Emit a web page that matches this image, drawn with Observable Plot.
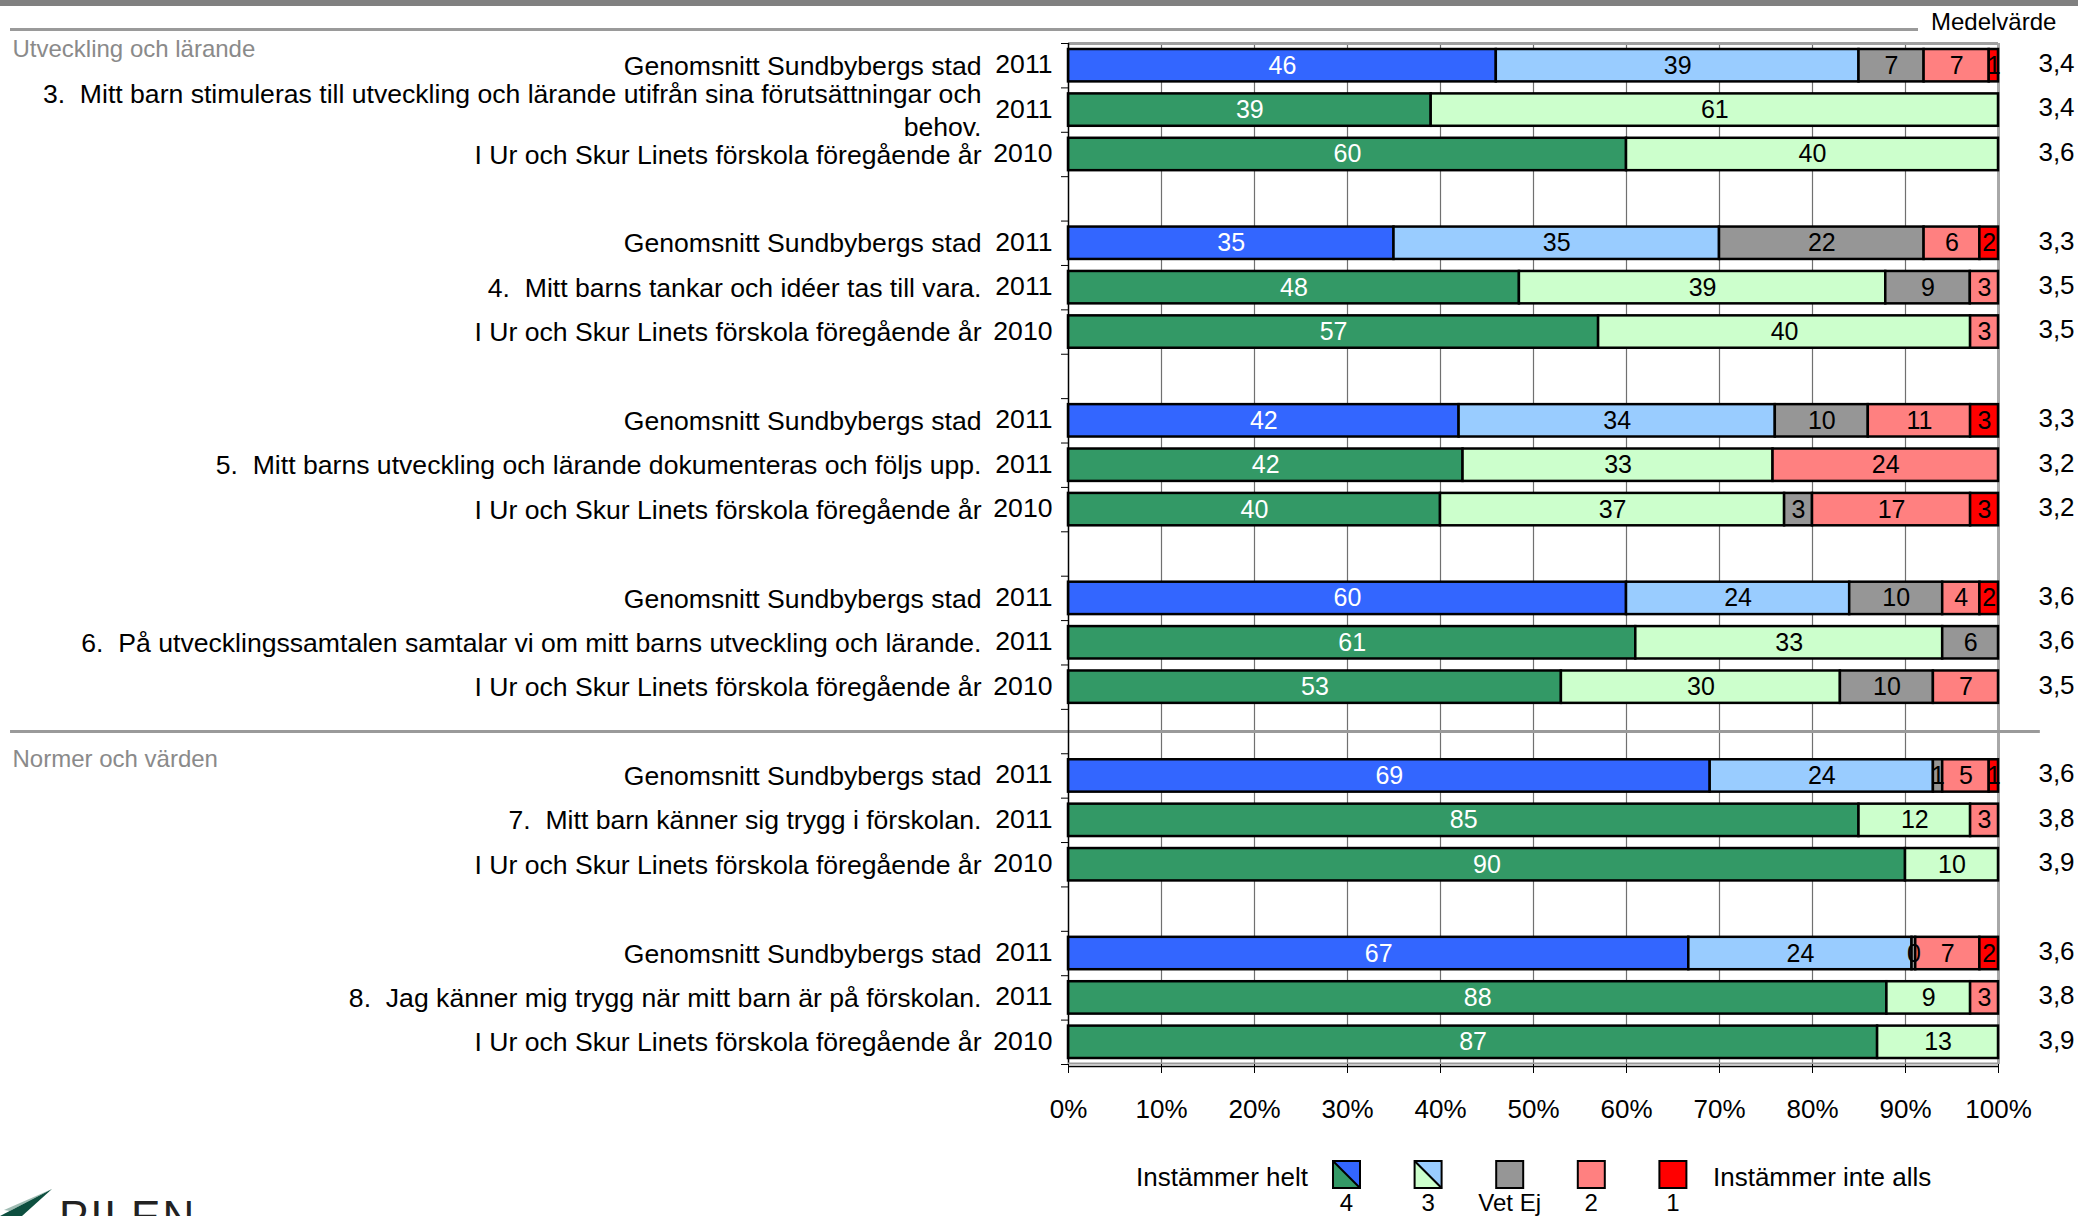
<!DOCTYPE html>
<html><head><meta charset="utf-8">
<script src="https://cdn.jsdelivr.net/npm/d3@7"></script>
<script src="https://cdn.jsdelivr.net/npm/@observablehq/plot@0.6"></script>
<style>
html,body{margin:0;padding:0;background:#fff;width:2078px;height:1216px;overflow:hidden;position:relative;font-family:'Liberation Sans',Arial,sans-serif;}
#chart{position:absolute;left:0;top:0;}
.abs{position:absolute;}
svg text{white-space:pre;}
</style></head><body>
<div id="chart"></div>
<div class="abs" style="left:0;top:0;width:2078px;height:6px;background:#808080"></div>
<div class="abs" style="left:10px;top:28px;width:1908px;height:3px;background:#9a9a9a"></div>
<div class="abs" id="medel" style="left:1931px;top:8px;font-size:24px;line-height:28px;"></div>
<div class="abs" id="legend" style="left:0;top:1146px"></div>
<div class="abs" id="logo" style="left:0;top:1180px"></div>
<script>
// ---------- data ----------
const categories = ["4", "3", "Vet Ej", "2", "1"];
const stadColors = ["#3366FF", "#99CCFF", "#969696", "#FF8080", "#FF0000"];
const skolaColors = ["#339966", "#CCFFCC", "#969696", "#FF8080", "#FF0000"];
const sections = ["Utveckling och lärande", "Normer och värden"];
const sectionStartQuestion = [0, 4];
const questions = [
  "3.  Mitt barn stimuleras till utveckling och lärande utifrån sina förutsättningar och\nbehov.",
  "4.  Mitt barns tankar och idéer tas till vara.",
  "5.  Mitt barns utveckling och lärande dokumenteras och följs upp.",
  "6.  På utvecklingssamtalen samtalar vi om mitt barns utveckling och lärande.",
  "7.  Mitt barn känner sig trygg i förskolan.",
  "8.  Jag känner mig trygg när mitt barn är på förskolan."
];
const stadLabel = "Genomsnitt Sundbybergs stad";
const prevLabel = "I Ur och Skur Linets förskola föregående år";
const rowYears = ["2011", "2011", "2010"];
const rowKinds = ["stad", "skola", "skola"];
const xTicks = [0, 0.1, 0.2, 0.3, 0.4, 0.5, 0.6, 0.7, 0.8, 0.9, 1];
const meanHeader = "Medelvärde";
const legendLeft = "Instämmer helt";
const legendRight = "Instämmer inte alls";

// percentages per row: [4, 3, Vet Ej, 2, 1]
const q3Values = [[46, 39, 7, 7, 1], [39, 61, 0, 0, 0], [60, 40, 0, 0, 0]];
const q4Values = [[35, 35, 22, 6, 2], [48, 39, 9, 3, 0], [57, 40, 0, 3, 0]];
const q5Values = [[42, 34, 10, 11, 3], [42, 33, 0, 24, 0], [40, 37, 3, 17, 3]];
const q6Values = [[60, 24, 10, 4, 2], [61, 33, 6, 0, 0], [53, 30, 10, 7, 0]];
const q7Values = [[69, 24, 1, 5, 1], [85, 12, 0, 3, 0], [90, 10, 0, 0, 0]];
const q8Values = [[66.7, 24, 0.4, 6.9, 2], [88, 9, 0, 3, 0], [87, 13, 0, 0, 0]];
const allValues = [q3Values, q4Values, q5Values, q6Values, q7Values, q8Values];
const meanValues = [[3.4, 3.4, 3.6], [3.3, 3.5, 3.5], [3.3, 3.2, 3.2], [3.6, 3.6, 3.5], [3.6, 3.8, 3.9], [3.6, 3.8, 3.9]];

// ---------- build tables ----------
const rows = [];
const segs = [];
questions.forEach((q, qi) => {
  [0, 1, 2].forEach(r => {
    const slot = qi * 4 + r;
    const kind = rowKinds[r];
    rows.push({
      slot,
      label: r === 0 ? stadLabel : r === 1 ? q : prevLabel,
      year: rowYears[r],
      mean: meanValues[qi][r]
    });
    const vals = allValues[qi][r];
    const total = d3.sum(vals);
    let cum = 0;
    vals.forEach((v, ci) => {
      if (v > 0) {
        segs.push({
          slot, cat: categories[ci], value: v,
          x1: cum / total, x2: (cum + v) / total,
          color: (kind === "stad" ? stadColors : skolaColors)[ci],
          textColor: ci === 0 ? "white" : "black"
        });
      }
      cum += v;
    });
  });
});
const nSlots = questions.length * 4 - 1;
const sectionData = sections.map((s, i) => ({name: s, slot: sectionStartQuestion[i] * 4}));
const separators = sectionStartQuestion.slice(1).map(q => q * 4 - 0.5);

const FONT = "'Liberation Sans', Arial, sans-serif";

const chart = Plot.plot({
  width: 2078,
  height: 1130,
  marginLeft: 1068,
  marginRight: 80,
  marginTop: 43,
  marginBottom: 66,
  x: {domain: [0, 1]},
  y: {domain: [0, nSlots], reverse: true},
  color: {type: "identity"},
  style: {fontFamily: FONT, fontSize: "26px", background: "white", color: "black", overflow: "visible"},
  marks: [
    Plot.ruleX(xTicks.slice(1, -1), {stroke: "#707070", strokeWidth: 1.2}),
    Plot.ruleX([1], {stroke: "#a8a8a8", strokeWidth: 3}),
    Plot.ruleY([0], {stroke: "#a0a0a0", strokeWidth: 3}),
    Plot.ruleY(separators, {x1: -1.1376, x2: 1.045, stroke: "#9a9a9a", strokeWidth: 3}),
    Plot.rectX(segs, {
      x1: "x1", x2: "x2",
      y1: d => d.slot, y2: d => d.slot + 1,
      insetTop: 6, insetBottom: 6,
      fill: "color", stroke: "black", strokeWidth: 2.5
    }),
    Plot.text(segs, {
      x: d => (d.x1 + d.x2) / 2, y: d => d.slot + 0.5,
      text: d => String(Math.round(d.value)),
      fill: "textColor", fontSize: 25
    }),
    Plot.ruleX([0], {stroke: "black", strokeWidth: 1.5}),
    Plot.ruleY([nSlots], {stroke: "#9a9a9a", strokeWidth: 2, dy: -1}),
    Plot.ruleY([nSlots], {stroke: "black", strokeWidth: 1.5, dy: 2}),
    Plot.axisY({ticks: d3.range(0, nSlots + 1), tickSize: 7, tickFormat: () => "", label: null, anchor: "left"}),
    Plot.axisX({ticks: xTicks, tickFormat: d => Math.round(d * 100) + "%", tickSize: 9, tickPadding: 26, fontSize: 26, label: null, anchor: "bottom"}),
    Plot.text(rows, {
      x: d => 0, y: d => d.slot + 0.5, text: "label",
      dx: -87, dy: -1.5, textAnchor: "end", lineHeight: 1.25, fontSize: 26.6
    }),
    Plot.text(rows, {
      x: d => 0, y: d => d.slot + 0.5, text: "year",
      dx: -16, dy: -1, textAnchor: "end", fontSize: 26.6
    }),
    Plot.text(rows, {
      x: d => 1, y: d => d.slot + 0.5,
      text: d => d.mean.toFixed(1).replace(".", ","),
      dx: 58, dy: -2, textAnchor: "middle", fontSize: 26
    }),
    Plot.text(sectionData, {
      x: d => 0, y: "slot", text: "name",
      dx: -1056, dy: 6, textAnchor: "start", fill: "#8a8a8a", fontSize: 24
    })
  ]
});
document.getElementById("chart").appendChild(chart);
document.getElementById("medel").textContent = meanHeader;

// ---------- legend ----------
const leg = d3.select("#legend").append("svg")
  .attr("width", 2078).attr("height", 70)
  .style("font-family", FONT).style("font-size", "26px");
leg.append("text").attr("x", 1308).attr("y", 31).attr("text-anchor", "end")
  .attr("dominant-baseline", "central").text(legendLeft);
leg.append("text").attr("x", 1713).attr("y", 31).attr("text-anchor", "start")
  .attr("dominant-baseline", "central").text(legendRight);
const s = 27;
categories.forEach((c, i) => {
  const x = 1333 + i * 81.6, y = 15;
  const g = leg.append("g");
  if (stadColors[i] !== skolaColors[i]) {
    g.append("polygon").attr("points", `${x},${y} ${x},${y + s} ${x + s},${y + s}`).attr("fill", skolaColors[i]);
    g.append("polygon").attr("points", `${x},${y} ${x + s},${y} ${x + s},${y + s}`).attr("fill", stadColors[i]);
    g.append("line").attr("x1", x).attr("y1", y).attr("x2", x + s).attr("y2", y + s).attr("stroke", "black").attr("stroke-width", 2);
    g.append("rect").attr("x", x).attr("y", y).attr("width", s).attr("height", s).attr("fill", "none").attr("stroke", "black").attr("stroke-width", 2);
  } else {
    g.append("rect").attr("x", x).attr("y", y).attr("width", s).attr("height", s).attr("fill", stadColors[i]).attr("stroke", "black").attr("stroke-width", 2);
  }
  leg.append("text").attr("x", x + s / 2).attr("y", 56).attr("text-anchor", "middle")
    .attr("dominant-baseline", "central").style("font-size", "24px").text(c);
});

// ---------- logo (cut off at bottom, as in the reference) ----------
const logo = d3.select("#logo").append("svg").attr("width", 220).attr("height", 36).style("overflow", "hidden");
logo.append("path").attr("d", "M0,36 L52,9 L22,36 Z").attr("fill", "#0d4f3f");
logo.append("path").attr("d", "M4,30 L52,9 L10,31 Z").attr("fill", "#5f8f80").attr("opacity", 0.6);
logo.append("text").attr("x", 59).attr("y", 52).attr("font-size", 44).attr("letter-spacing", 2)
  .attr("fill", "#222").style("font-family", FONT).text("PILEN");
</script>
</body></html>
